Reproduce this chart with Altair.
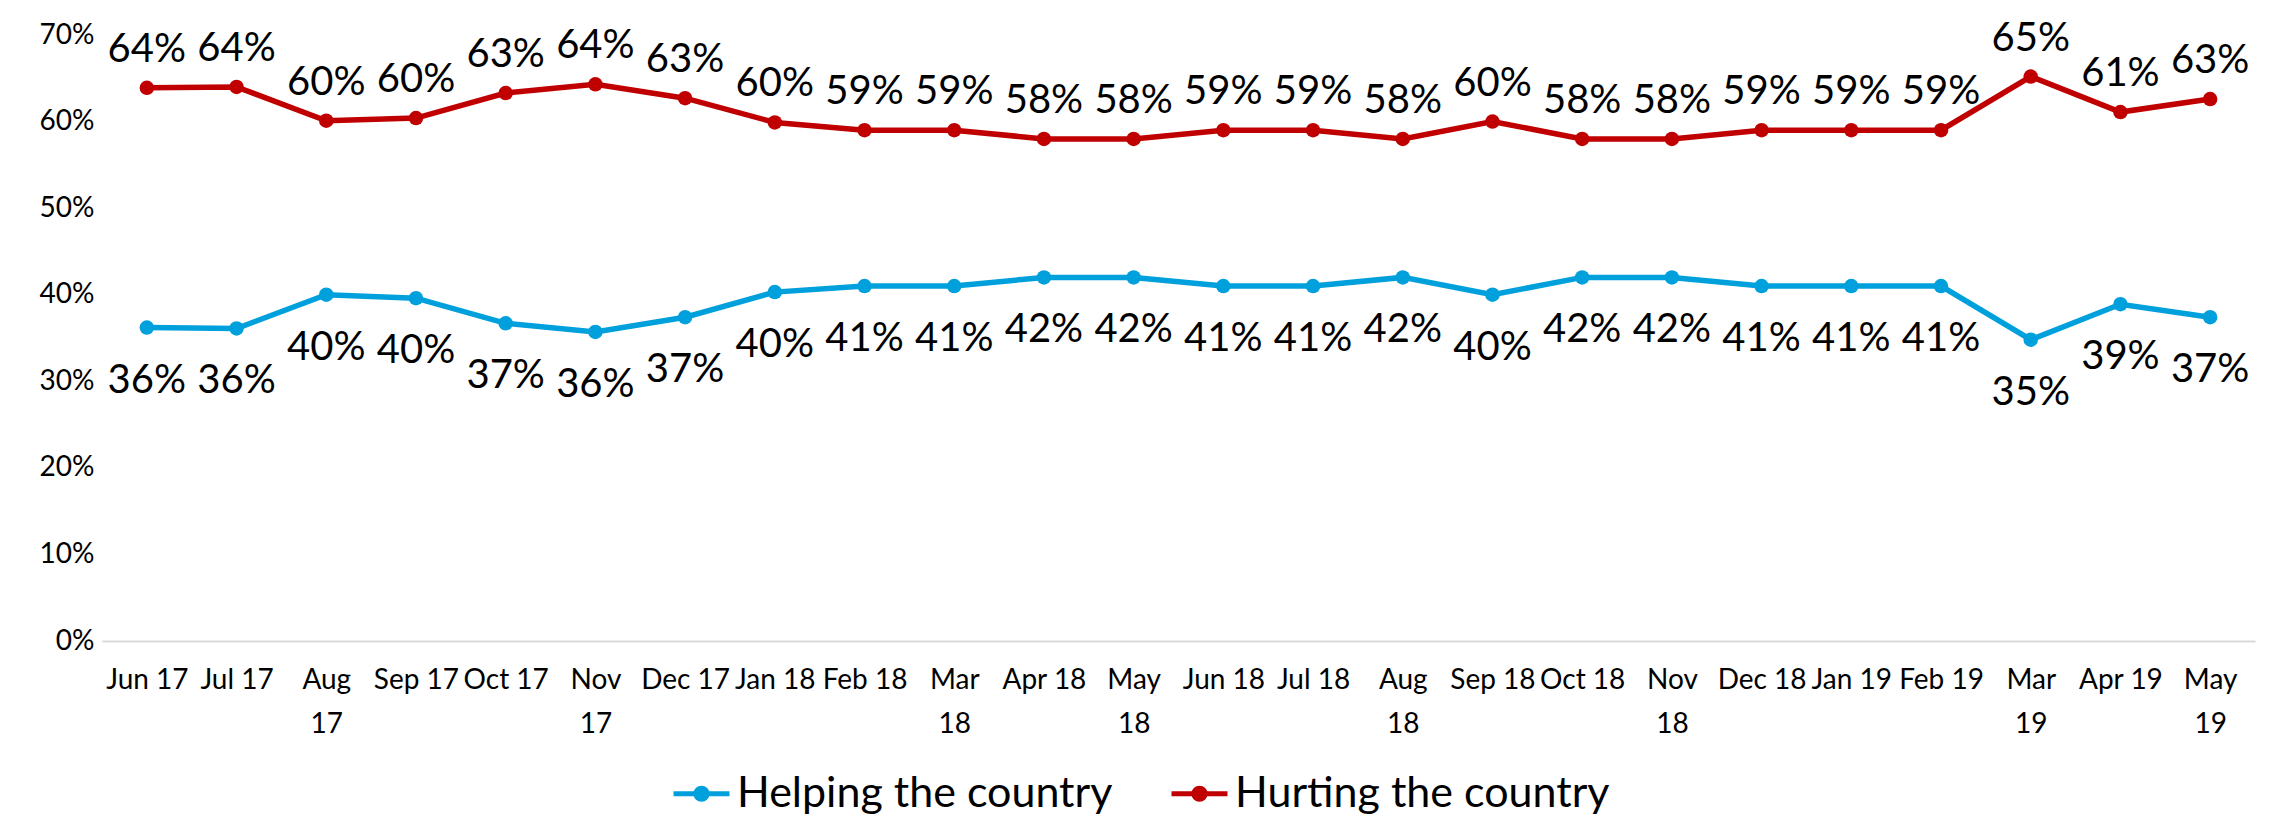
import json
import altair as alt
import pandas as pd

months = ["Jun 17", "Jul 17", "Aug 17", "Sep 17", "Oct 17", "Nov 17", "Dec 17", "Jan 18",
          "Feb 18", "Mar 18", "Apr 18", "May 18", "Jun 18", "Jul 18", "Aug 18", "Sep 18",
          "Oct 18", "Nov 18", "Dec 18", "Jan 19", "Feb 19", "Mar 19", "Apr 19", "May 19"]
helping = [0.362, 0.361, 0.400, 0.396, 0.367, 0.357, 0.374, 0.403,
           0.41, 0.41, 0.42, 0.42, 0.41, 0.41, 0.42, 0.40,
           0.42, 0.42, 0.41, 0.41, 0.41, 0.348, 0.389, 0.374]
hurting = [0.639, 0.640, 0.601, 0.604, 0.633, 0.643, 0.627, 0.599,
           0.59, 0.59, 0.58, 0.58, 0.59, 0.59, 0.58, 0.60,
           0.58, 0.58, 0.59, 0.59, 0.59, 0.652, 0.611, 0.626]
series_names = ["Helping the country", "Hurting the country"]
series_colors = ["#00A0DC", "#C00000"]
wrapped_labels = ["Aug 17", "Nov 17", "Mar 18", "May 18", "Aug 18", "Nov 18", "Mar 19", "May 19"]
y_ticks = [0, 0.1, 0.2, 0.3, 0.4, 0.5, 0.6, 0.7]

rows = []
for m, h, u in zip(months, helping, hurting):
    rows.append({"month": m, "series": series_names[0], "value": h})
    rows.append({"month": m, "series": series_names[1], "value": u})
df = pd.DataFrame(rows)

FONT = "Lato"
label_expr = "indexof(%s, datum.label) >= 0 ? split(datum.label, ' ') : datum.label" % json.dumps(wrapped_labels)

x = alt.X("month:N", sort=months, title=None,
          scale=alt.Scale(paddingInner=0, paddingOuter=0),
          axis=alt.Axis(labelAngle=0, labelFont=FONT, labelFontSize=28, labelColor="#000000",
                        labelLineHeight=44, labelPadding=25, ticks=False,
                        domainColor="#D9D9D9", domainWidth=2, labelExpr=label_expr,
                        labelBaseline="top"))
y = alt.Y("value:Q", title=None,
          scale=alt.Scale(domain=[0, 0.7], nice=False),
          axis=alt.Axis(values=y_ticks, format=".0%", grid=False, domain=False, ticks=False,
                        labelFont=FONT, labelFontSize=28, labelColor="#000000", labelPadding=8))

color_scale = alt.Scale(domain=series_names, range=series_colors)
legend = alt.Legend(orient="none", legendX=569, legendY=728, direction="horizontal", columns=2,
                    title=None, labelFont=FONT, labelFontSize=43, labelColor="#000000",
                    symbolType="M-1,0L1,0M-0.2,0A0.2,0.2,0,1,0,0.2,0A0.2,0.2,0,1,0,-0.2,0Z",
                    symbolSize=3136, symbolStrokeWidth=5, labelOffset=5, columnPadding=48,
                    labelLimit=600)

base = alt.Chart(df)
lines = base.mark_line(strokeWidth=5.5).encode(
    x=x, y=y,
    color=alt.Color("series:N", scale=color_scale, legend=legend),
)
points = base.mark_point(filled=True, size=210, opacity=1).encode(
    x=x, y=y,
    color=alt.Color("series:N", scale=color_scale, legend=legend),
    fill=alt.Fill("series:N", scale=color_scale, legend=legend),
)
labels_up = base.transform_filter(alt.datum.series == series_names[1]).mark_text(
    font=FONT, fontSize=40, dy=-38, color="#000000", baseline="middle").encode(
    x=x, y=y, text=alt.Text("value:Q", format=".0%"))
labels_down = base.transform_filter(alt.datum.series == series_names[0]).mark_text(
    font=FONT, fontSize=40, dy=53, color="#000000", baseline="middle").encode(
    x=x, y=y, text=alt.Text("value:Q", format=".0%"))

chart = alt.layer(lines, points, labels_up, labels_down).properties(
    width=2153, height=606,
    autosize=alt.AutoSizeParams(type="none"),
    padding={"left": 94, "top": 27, "right": 22, "bottom": 200},
).configure(background="white").configure_view(stroke=None)

chart.save("out.html", embed_options={"renderer": "svg", "actions": False})
